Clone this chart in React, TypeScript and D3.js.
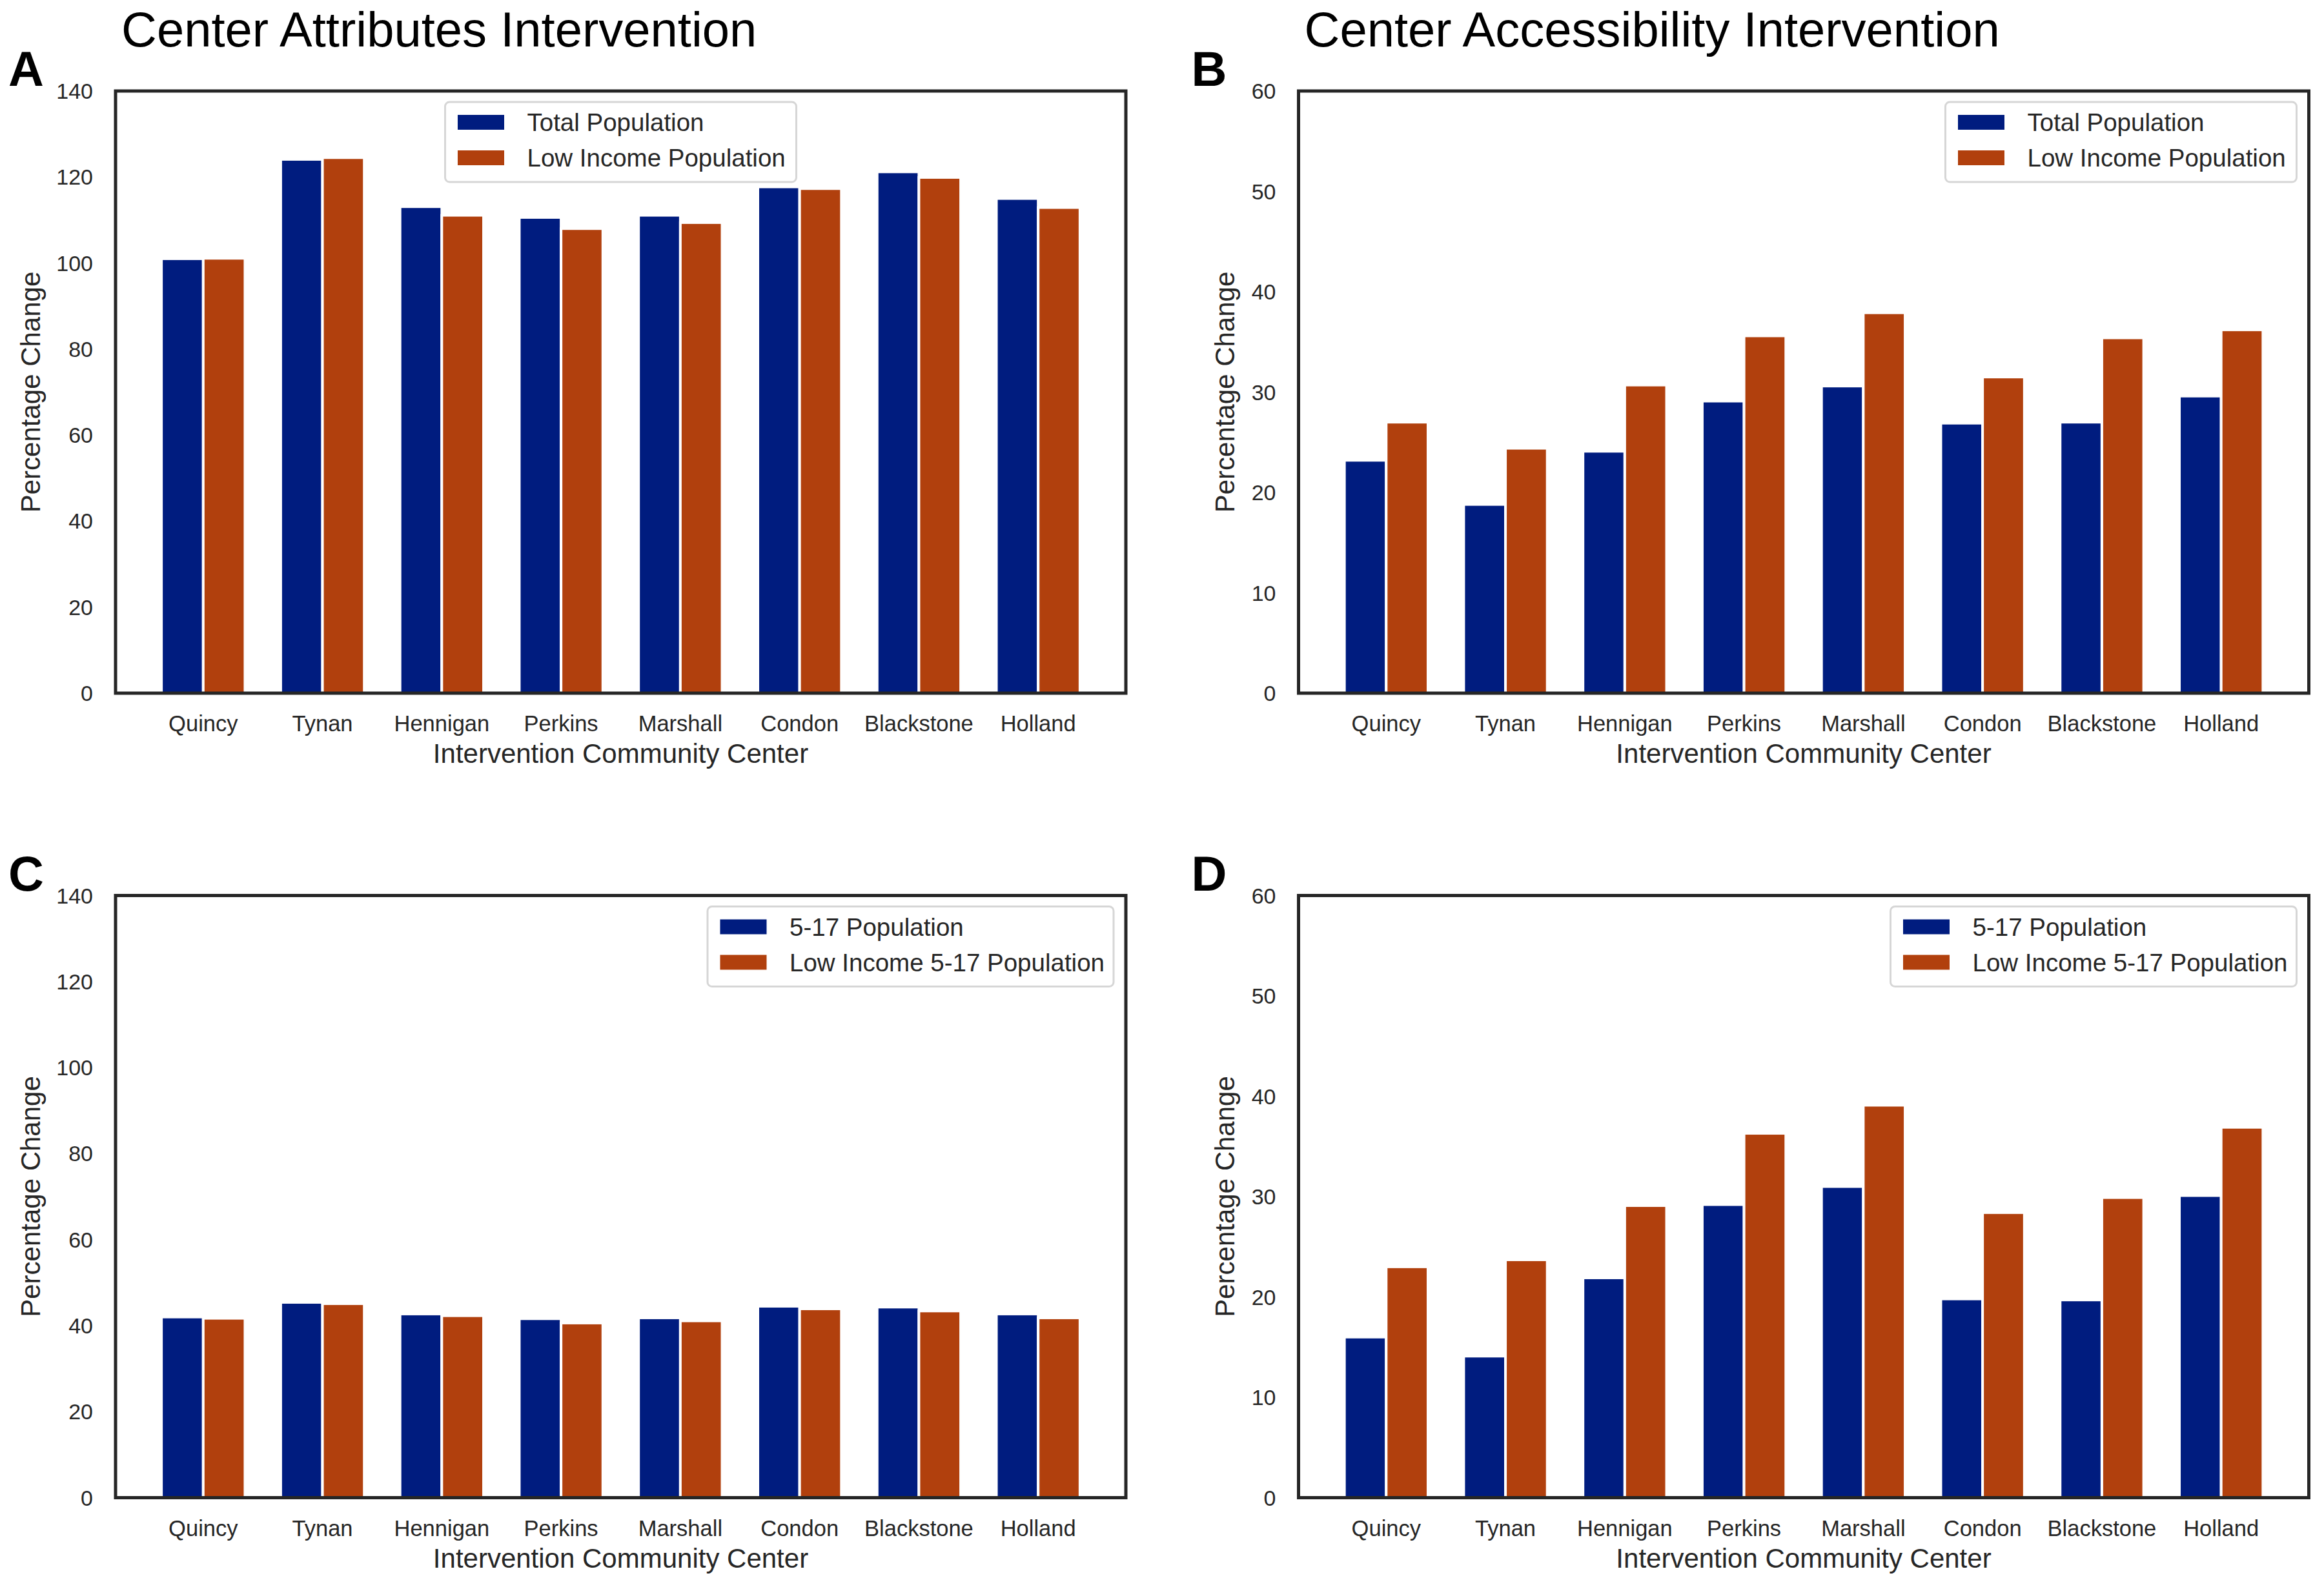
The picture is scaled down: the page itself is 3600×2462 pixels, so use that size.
import React from "react";
import * as d3 from "d3";

const centers = ["Quincy", "Tynan", "Hennigan", "Perkins", "Marshall", "Condon", "Blackstone", "Holland"];

const attrTotal = [101.0, 124.1, 113.1, 110.6, 111.1, 117.7, 121.2, 115.0];
const attrLowIncome = [101.1, 124.5, 111.1, 108.0, 109.4, 117.3, 119.9, 112.9];
const accessTotal = [23.2, 18.8, 24.1, 29.1, 30.6, 26.9, 27.0, 29.6];
const accessLowIncome = [27.0, 24.4, 30.7, 35.6, 37.9, 31.5, 35.4, 36.2];
const attrYouth = [42.0, 45.4, 42.7, 41.6, 41.8, 44.5, 44.3, 42.7];
const attrLowIncomeYouth = [41.7, 45.1, 42.3, 40.6, 41.1, 43.9, 43.4, 41.8];
const accessYouth = [16.0, 14.1, 21.9, 29.2, 31.0, 19.8, 19.7, 30.1];
const accessLowIncomeYouth = [23.0, 23.7, 29.1, 36.3, 39.1, 28.4, 29.9, 36.9];

const attrTicks = [0, 20, 40, 60, 80, 100, 120, 140];
const accessTicks = [0, 10, 20, 30, 40, 50, 60];

const seriesNamesTop = ["Total Population", "Low Income Population"];
const seriesNamesBottom = ["5-17 Population", "Low Income 5-17 Population"];
const colors = ["#001c7f", "#b1400d"];

const W = 3600;
const H = 2462;
const FONT = "'Liberation Sans', Arial, Helvetica, sans-serif";
const TEXT = "#262626";

type PanelProps = {
  letter: string;
  title?: string;
  left: number;
  top: number;
  a: number[];
  b: number[];
  names: string[];
  ticks: number[];
  ymax: number;
  legendPos: "center" | "right";
  legendWidth: number;
  ylabelOffset: number;
};

const AW = 1565;
const AH = 933;

function Panel(p: PanelProps) {
  const x = d3.scaleLinear().domain([-0.735, centers.length - 1 + 0.735]).range([p.left, p.left + AW]);
  const y = d3.scaleLinear().domain([0, p.ymax]).range([p.top + AH, p.top]);
  const bw = 0.35;
  const legH = 124;
  const legX = p.legendPos === "center" ? p.left + AW / 2 - p.legendWidth / 2 : p.left + AW - 19 - p.legendWidth;
  const legY = p.top + 17;
  return (
    <g>
      {p.title && (
        <text x={p.left + 9} y={72} fontSize={76} fill="#000" fontFamily={FONT}>
          {p.title}
        </text>
      )}
      <text x={p.left - 166} y={p.top - 8} fontSize={76} fontWeight="bold" fill="#000" fontFamily={FONT}>
        {p.letter}
      </text>
      {centers.map((c, i) => (
        <g key={c}>
          <rect
            x={x(i - bw)}
            y={y(p.a[i])}
            width={x(i) - x(i - bw)}
            height={y(0) - y(p.a[i])}
            fill={colors[0]}
            stroke="#fff"
            strokeWidth={4}
          />
          <rect
            x={x(i)}
            y={y(p.b[i])}
            width={x(i + bw) - x(i)}
            height={y(0) - y(p.b[i])}
            fill={colors[1]}
            stroke="#fff"
            strokeWidth={4}
          />
          <text
            x={x(i)}
            y={p.top + AH + 59}
            fontSize={34.5}
            fill={TEXT}
            textAnchor="middle"
            fontFamily={FONT}
          >
            {c}
          </text>
        </g>
      ))}
      {p.ticks.map((t) => (
        <text key={t} x={p.left - 35} y={y(t) + 12} fontSize={34} fill={TEXT} textAnchor="end" fontFamily={FONT}>
          {t}
        </text>
      ))}
      <rect x={p.left} y={p.top} width={AW} height={AH} fill="none" stroke={TEXT} strokeWidth={5} />
      <text
        x={p.left + AW / 2}
        y={p.top + AH + 108}
        fontSize={42}
        fill={TEXT}
        textAnchor="middle"
        fontFamily={FONT}
      >
        Intervention Community Center
      </text>
      <text
        transform={`translate(${p.left - p.ylabelOffset},${p.top + AH / 2}) rotate(-90)`}
        fontSize={42}
        fill={TEXT}
        textAnchor="middle"
        fontFamily={FONT}
      >
        Percentage Change
      </text>
      <g>
        <rect
          x={legX}
          y={legY}
          width={p.legendWidth}
          height={legH}
          rx={7}
          ry={7}
          fill="#fff"
          fillOpacity={0.8}
          stroke="#d6d6d6"
          strokeWidth={3}
        />
        {p.names.map((n, k) => (
          <g key={n}>
            <rect x={legX + 19.5} y={legY + 20 + k * 55} width={72} height={23} fill={colors[k]} />
            <text x={legX + 127} y={legY + 45 + k * 55} fontSize={38.5} fill={TEXT} fontFamily={FONT}>
              {n}
            </text>
          </g>
        ))}
      </g>
    </g>
  );
}

export default function App() {
  const leftA = 179;
  const leftB = 2011.5;
  const topA = 141;
  const topC = 1387.5;
  return (
    <svg
      width={W}
      height={H}
      viewBox={`0 0 ${W} ${H}`}
      style={{ position: "absolute", left: 0, top: 0, background: "#fff" }}
    >
      <rect x={0} y={0} width={W} height={H} fill="#fff" />
      <Panel
        letter="A"
        title="Center Attributes Intervention"
        left={leftA}
        top={topA}
        a={attrTotal}
        b={attrLowIncome}
        names={seriesNamesTop}
        ticks={attrTicks}
        ymax={140}
        legendPos="center"
        legendWidth={544}
        ylabelOffset={117}
      />
      <Panel
        letter="B"
        title="Center Accessibility Intervention"
        left={leftB}
        top={topA}
        a={accessTotal}
        b={accessLowIncome}
        names={seriesNamesTop}
        ticks={accessTicks}
        ymax={60}
        legendPos="right"
        legendWidth={544}
        ylabelOffset={99.5}
      />
      <Panel
        letter="C"
        left={leftA}
        top={topC}
        a={attrYouth}
        b={attrLowIncomeYouth}
        names={seriesNamesBottom}
        ticks={attrTicks}
        ymax={140}
        legendPos="right"
        legendWidth={629}
        ylabelOffset={117}
      />
      <Panel
        letter="D"
        left={leftB}
        top={topC}
        a={accessYouth}
        b={accessLowIncomeYouth}
        names={seriesNamesBottom}
        ticks={accessTicks}
        ymax={60}
        legendPos="right"
        legendWidth={629}
        ylabelOffset={99.5}
      />
    </svg>
  );
}
